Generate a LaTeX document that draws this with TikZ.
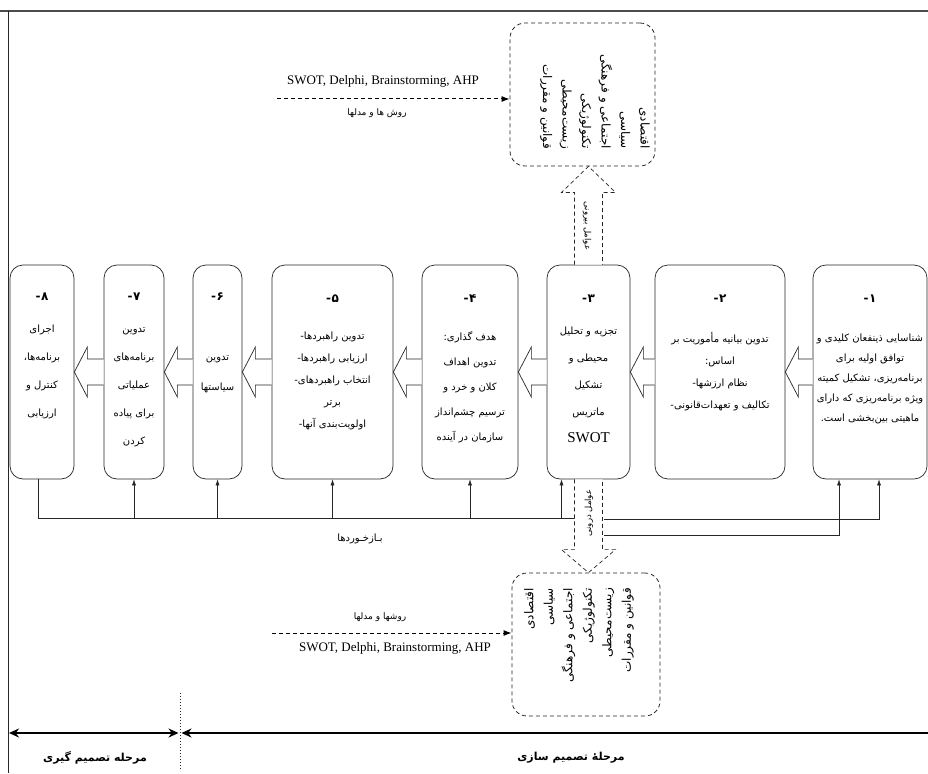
\documentclass[tikz,border=0pt]{standalone}
\usepackage{fontspec}
\setmainfont{Liberation Serif}
\newfontfamily\fafont[Script=Arabic]{DejaVu Sans}
\TeXXeTstate=1
\usetikzlibrary{positioning,calc,arrows.meta}
\newcommand{\fa}[1]{\beginR #1\endR}
\newcommand{\stepno}[1]{{\fontsize{12}{12}\selectfont\bfseries -\kern0.6pt#1}}

\begin{document}
\begin{tikzpicture}[x=1pt, y=-1pt,
    stage/.style={draw=black!85, line width=0.7pt, rounded corners=13pt, minimum height=214pt},
    stagetext/.style={anchor=north, align=center, inner sep=0pt, font=\fafont\fontsize{10}{#1}\selectfont},
    factorbox/.style={draw=black!85, line width=0.8pt, dash pattern=on 4pt off 3pt, rounded corners=15pt},
    factortext/.style={align=right, inner sep=0pt, font=\fafont\fontsize{12}{19.5}\selectfont},
    hollow/.style={draw=black!85, line width=0.7pt, fill=white},
    hollowdash/.style={hollow, dash pattern=on 4pt off 3pt},
    fb/.style={draw=black!85, line width=0.5pt},
    fbarrow/.style={fb, -{Latex[length=6pt,width=4pt]}},
    method/.style={line width=1pt, dash pattern=on 4pt off 3pt, -{Latex[length=8pt,width=6pt]}},
    latin/.style={inner sep=0pt, font=\fontsize{13}{14}\selectfont},
    fatext/.style={inner sep=0pt, font=\fafont\fontsize{9}{10}\selectfont},
    phase/.style={line width=2.4pt},
    phasetext/.style={inner sep=0pt, font=\fafont\bfseries\fontsize{11}{12}\selectfont},
  ]
  \useasboundingbox (0,0) rectangle (928,773);

  % frame
  \draw[black!70, line width=1.3pt] (0,11) -- (928,11);
  \draw[black!85, line width=0.8pt] (8,11) -- (8,773);

  % stages
  \node[stage, minimum width=114pt] (b1) at (870,372) {};
  \node[stage, minimum width=130pt, left of=b1, node distance=150pt] (b2) {};
  \node[stage, minimum width=83pt, left of=b2, node distance=131.5pt] (b3) {};
  \node[stage, minimum width=96pt, left of=b3, node distance=118.5pt] (b4) {};
  \node[stage, minimum width=121pt, left of=b4, node distance=137.5pt] (b5) {};
  \node[stage, minimum width=49pt, left of=b5, node distance=115pt] (b6) {};
  \node[stage, minimum width=60pt, left of=b6, node distance=83.5pt] (b7) {};
  \node[stage, minimum width=64pt, left of=b7, node distance=92pt] (b8) {};

  \node[stagetext=20pt] (t1) at ([yshift=-30pt]b1.north) {\stepno{۱}\\[19pt]
    \fa{شناسایی ذینفعان کلیدی و}\\\fa{توافق اولیه برای}\\\fa{برنامه‌ریزی، تشکیل کمیته}\\
    \fa{ویژه برنامه‌ریزی که دارای}\\\fa{ماهیتی بین‌بخشی است.}};
  \node[stagetext=22pt] (t2) at ([yshift=-30pt]b2.north) {\stepno{۲}\\[18pt]
    \fa{تدوین بیانیه مأموریت بر}\\\fa{اساس:}\\-\fa{نظام ارزشها}\\-\fa{تکالیف و تعهدات‌قانونی}};
  \node[stagetext=27pt] (t3) at ([yshift=-30pt]b3.north) {\stepno{۳}\\[5pt]
    \fa{تجزیه و تحلیل}\\\fa{محیطی و}\\\fa{تشکیل}\\\fa{ماتریس}\\{\rmfamily\fontsize{15}{15}\selectfont SWOT}};
  \node[stagetext=25pt] (t4) at ([yshift=-30pt]b4.north) {\stepno{۴}\\[13pt]
    \fa{هدف گذاری:}\\\fa{تدوین اهداف}\\\fa{کلان و خرد و}\\\fa{ترسیم چشم‌انداز}\\\fa{سازمان در آینده}};
  \node[stagetext=22pt] (t5) at ([yshift=-30pt]b5.north) {\stepno{۵}\\[15pt]
    -\fa{تدوین راهبردها}\\-\fa{ارزیابی راهبردها}\\-\fa{انتخاب راهبردهای}\\\fa{برتر}\\-\fa{اولویت‌بندی آنها}};
  \node[stagetext=30pt] (t6) at ([yshift=-28pt]b6.north) {\stepno{۶}\\[30pt]
    \fa{تدوین}\\\fa{سیاستها}};
  \node[stagetext=28pt] (t7) at ([yshift=-28pt]b7.north) {\stepno{۷}\\[4pt]
    \fa{تدوین}\\\fa{برنامه‌های}\\\fa{عملیاتی}\\\fa{برای پیاده}\\\fa{کردن}};
  \node[stagetext=28pt] (t8) at ([yshift=-28pt]b8.north) {\stepno{۸}\\[4pt]
    \fa{اجرای}\\\fa{برنامه‌ها،}\\\fa{کنترل و}\\\fa{ارزیابی}};

  % hollow arrows between stages
  \foreach \a/\b in {b1/b2, b2/b3, b3/b4, b4/b5, b5/b6, b6/b7, b7/b8}
    \draw[hollow] ($(\a.west)+(0,-13)$) -- ($(\b.east)+(13,-13)$) -- ($(\b.east)+(13,-25)$)
      -- (\b.east) -- ($(\b.east)+(13,25)$) -- ($(\b.east)+(13,13)$) -- ($(\a.west)+(0,13)$);

  % external factors
  \node[factorbox, minimum width=145pt, minimum height=143pt] (extbox) at (582.5,94.5) {};
  \node[factortext, rotate=-90, anchor=east] (extlist) at (595,149) {\fa{اقتصادی}\\\fa{سیاسی}\\
    \fa{اجتماعی و فرهنگی}\\\fa{تکنولوژیکی}\\\fa{زیست‌محیطی}\\\fa{قوانین و مقررات}};
  \coordinate (extTip) at (b3.north |- extbox.south);
  \draw[hollowdash] ($(b3.north)+(-14,0)$) -- ($(extTip)+(-14,26)$) -- ($(extTip)+(-27,26)$) -- (extTip)
    -- ($(extTip)+(27,26)$) -- ($(extTip)+(14,26)$) -- ($(b3.north)+(14,0)$);
  \node[fatext, rotate=-90, font=\fafont\fontsize{8.5}{9}\selectfont] (extlbl) at (587,226) {\fa{عوامل بیرونی}};

  \coordinate (mTop) at (277,99);
  \draw[method] (mTop) -- (mTop -| extbox.west);
  \node[latin] (swotT) at (383,81) {SWOT, Delphi, Brainstorming, AHP};
  \node[fatext] (methT) at (377,113) {\fa{روش ها و مدلها}};

  % feedback
  \coordinate (fbL) at (38,518);
  \coordinate (fbM) at (575,518);
  \draw[fb] (b8.south -| fbL) -- (fbL) -- (fbM);
  \foreach \b in {b7,b6,b5,b4}
    \draw[fbarrow] (\b.south |- fbL) -- (\b.south);
  \coordinate (in3) at ([xshift=-27pt]b3.south);
  \draw[fbarrow] (in3 |- fbL) -- (in3);
  \coordinate (fbR) at (604,519);
  \coordinate (fbS) at (604,535);
  \draw[fbarrow] (fbR) -| ([xshift=9pt]b1.south);
  \draw[fbarrow] (fbS) -| ([xshift=-31pt]b1.south);
  \node[fatext, font=\fafont\fontsize{10}{11}\selectfont] (fblbl) at (360,539) {\fa{بـازخـوردها}};

  % internal factors
  \node[factorbox, minimum width=148pt, minimum height=143pt] (intbox) at (586,644.5) {};
  \node[factortext, rotate=90, anchor=east] (intlist) at (579,588) {\fa{اقتصادی}\\\fa{سیاسی}\\
    \fa{اجتماعی و فرهنگی}\\\fa{تکنولوژیکی}\\\fa{زیست‌محیطی}\\\fa{قوانین و مقررات}};
  \coordinate (intTip) at (b3.south |- intbox.north);
  \draw[hollowdash] ($(b3.south)+(-14,0)$) -- ($(intTip)+(-14,-23)$) -- ($(intTip)+(-27,-23)$) -- (intTip)
    -- ($(intTip)+(27,-23)$) -- ($(intTip)+(14,-23)$) -- ($(b3.south)+(14,0)$);
  \node[fatext, rotate=90, font=\fafont\fontsize{8.5}{9}\selectfont] (intlbl) at (589,513) {\fa{عوامل درونی}};

  \coordinate (mBot) at (272,633);
  \draw[method] (mBot) -- (mBot -| intbox.west);
  \node[fatext] (methB) at (380,617) {\fa{روشها و مدلها}};
  \node[latin] (swotB) at (395,648) {SWOT, Delphi, Brainstorming, AHP};

  % phases
  \coordinate (pL) at (9,733);
  \coordinate (pM) at (180,733);
  \coordinate (pR) at (928,733);
  \coordinate (divTop) at (180,693);
  \coordinate (divBot) at (180,771);
  \draw[phase, {Stealth[length=10pt,width=9pt]}-{Stealth[length=10pt,width=9pt]}] (pL) -- ([xshift=-1.5pt]pM);
  \draw[phase, {Stealth[length=10pt,width=9pt]}-] ([xshift=1.5pt]pM) -- (pR);
  \draw[black!85, line width=1pt, dotted] (divTop) -- (divBot);
  \node[phasetext] (decide) at (95,758) {\fa{مرحله تصمیم گیری}};
  \node[phasetext] (shape) at (571,758) {\fa{مرحلهٔ تصمیم سازی}};
\end{tikzpicture}
\end{document}
